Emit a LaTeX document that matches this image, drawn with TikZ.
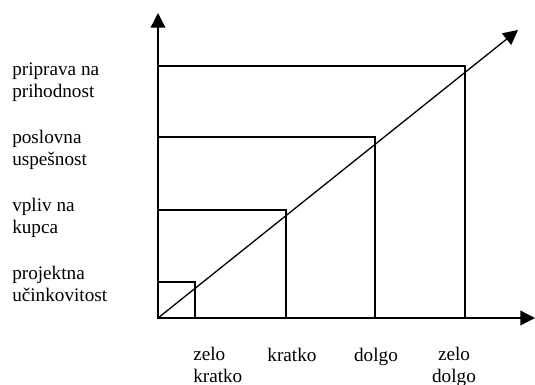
\documentclass[tikz,border=0pt]{standalone}
\usepackage{fontspec}
\setmainfont{Liberation Serif}
\usetikzlibrary{arrows.meta}
\begin{document}
\begin{tikzpicture}[x=0.75pt,y=-0.75pt,
  axis/.style={line width=1pt,-{Triangle[length=11pt,width=11pt]}},
  box/.style={line width=1pt},
  lab/.style={font=\fontsize{14.4pt}{16.5pt}\selectfont,inner sep=0pt,align=left}]
\useasboundingbox (0,0) rectangle (535,385);
\coordinate (O) at (158,318);
\coordinate (ytip) at (158,13);
\coordinate (xtip) at (535,318);
\coordinate (dtip) at (518,30);
\draw[box] (O) rectangle (195,282);
\draw[box] (O) rectangle (286,210);
\draw[box] (O) rectangle (375,137);
\draw[box] (O) rectangle (465,66);
\draw[axis] (O) -- (ytip);
\draw[axis] (O) -- (xtip);
\draw[axis] (O) -- (dtip);
\node[lab,anchor=base west] (l1) at (12,97.5) {priprava na\\prihodnost};
\node[lab,anchor=base west] (l2) at (12,165) {poslovna\\uspešnost};
\node[lab,anchor=base west] (l3) at (12,233) {vpliv na\\kupca};
\node[lab,anchor=base west] (l4) at (12,301) {projektna\\učinkovitost};
\node[lab,anchor=base west] (b1) at (193,382) {zelo\\kratko};
\node[lab,anchor=base] (b2) at (292,361) {kratko};
\node[lab,anchor=base] (b3) at (376,361) {dolgo};
\node[lab,anchor=base,align=center] (b4) at (454,382) {zelo\\dolgo};
\end{tikzpicture}
\end{document}
